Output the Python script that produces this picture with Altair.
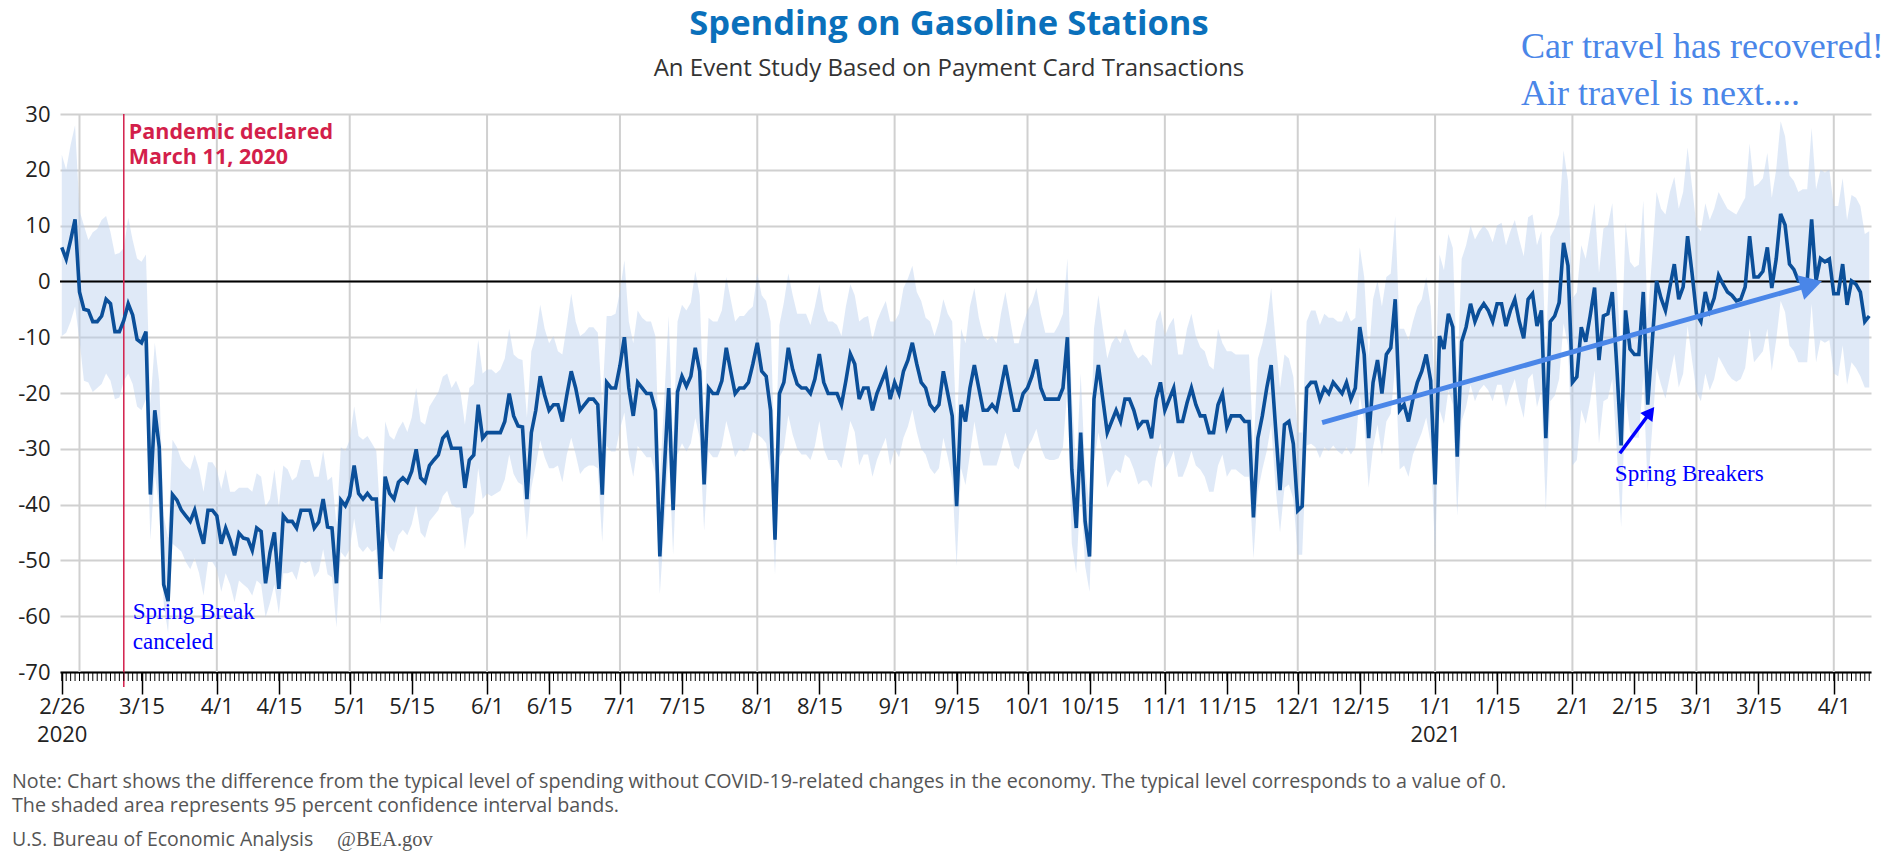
import altair as alt
import pandas as pd

# ---------------- daily values (difference from typical level) ----------------
line_feb20 = [6.1, 4.0, 7.4, 11.1]
line_mar20 = [-1.9, -5.0, -5.2, -7.2, -7.2, -6.2, -3.2, -4.0, -9.0, -9.0, -7.0, -4.0, -6.0, -10.4, -11.0, -9.0,
              -38.2, -23.1, -29.7, -54.3, -57.3, -38.2, -39.2, -41.0, -42.0, -43.0, -41.0, -44.3, -47.0, -41.0, -41.0]
line_apr20 = [-42.0, -47.0, -44.2, -46.3, -49.1, -45.1, -46.0, -46.2, -48.2, -44.2, -44.8, -54.1, -48.6, -45.0, -55.1,
              -42.0, -43.0, -43.0, -44.2, -41.0, -41.0, -41.0, -44.2, -43.1, -39.0, -44.0, -44.2, -54.1, -39.2, -40.2]
line_may20 = [-38.4, -33.0, -38.0, -39.0, -38.0, -39.0, -39.0, -53.3, -35.0, -38.0, -39.0, -36.0, -35.2, -36.0, -34.0,
              -30.1, -35.2, -36.0, -33.0, -32.0, -31.1, -28.1, -27.2, -29.9, -29.9, -29.9, -37.0, -32.0, -31.1, -22.1, -28.1]
line_jun20 = [-27.1, -27.1, -27.1, -27.1, -25.1, -20.1, -24.1, -25.9, -26.1, -39.0, -27.1, -23.1, -17.0, -20.4, -23.1,
              -22.1, -22.1, -25.1, -20.4, -16.1, -19.1, -23.1, -22.1, -21.1, -21.1, -22.1, -38.2, -18.1, -19.1, -19.1]
line_jul20 = [-15.1, -10.0, -19.1, -24.1, -18.1, -19.1, -20.1, -20.1, -23.1, -49.3, -34.0, -19.1, -41.0, -19.8, -17.0,
              -18.8, -17.0, -11.9, -16.1, -36.4, -19.1, -20.1, -20.1, -17.8, -11.9, -16.1, -20.1, -19.1, -19.1, -18.1, -14.8]
line_aug20 = [-11.0, -16.1, -17.0, -23.1, -46.3, -20.1, -18.1, -11.9, -15.8, -18.4, -19.1, -19.1, -20.1, -17.5, -13.0,
              -18.1, -20.1, -20.1, -20.1, -22.1, -17.8, -13.0, -14.8, -21.1, -19.1, -19.1, -23.1, -20.1, -18.1, -16.1, -21.1]
line_sep20 = [-18.1, -20.1, -16.1, -14.1, -11.0, -14.8, -18.1, -19.1, -22.1, -23.1, -22.1, -16.1, -20.1, -24.1, -40.3,
              -22.1, -25.1, -19.1, -15.0, -19.1, -23.1, -23.1, -22.1, -23.1, -19.1, -15.0, -19.1, -23.1, -23.1, -20.1]
line_oct20 = [-19.1, -17.0, -14.0, -19.1, -21.1, -21.1, -21.1, -21.1, -19.1, -10.0, -33.7, -44.2, -27.1, -43.0, -49.3,
              -21.1, -15.0, -21.1, -27.1, -25.1, -23.1, -25.1, -21.1, -21.1, -23.1, -26.1, -25.1, -25.1, -28.1, -21.1, -18.1]
line_nov20 = [-23.1, -21.1, -19.1, -25.1, -25.1, -21.8, -19.1, -22.1, -24.1, -24.1, -27.1, -27.1, -22.1, -20.1, -26.1,
              -24.1, -24.1, -24.1, -25.1, -25.1, -42.3, -28.1, -24.1, -19.1, -15.0, -26.2, -37.4, -25.7, -25.1, -29.1]
line_dec20 = [-41.1, -40.3, -19.1, -18.1, -18.1, -21.1, -19.1, -20.1, -18.1, -19.1, -20.1, -18.1, -21.1, -19.1, -8.2,
              -13.1, -28.1, -18.1, -14.1, -20.1, -13.1, -11.9, -3.2, -23.1, -22.1, -25.1, -21.1, -18.1, -16.1, -13.1, -17.8]
line_jan21 = [-36.4, -9.8, -12.1, -5.8, -8.2, -31.4, -10.8, -8.2, -4.0, -7.2, -5.2, -4.0, -5.2, -7.2, -4.0,
              -4.0, -8.0, -5.2, -3.2, -7.2, -10.2, -3.2, -2.2, -8.0, -5.2, -28.1, -7.2, -6.2, -3.8, 6.9, 2.8]
line_feb21 = [-18.1, -17.1, -8.2, -10.8, -6.2, -1.1, -14.1, -6.2, -5.8, -1.9, -15.0, -29.4, -5.2, -12.1,
              -13.1, -13.1, -1.9, -22.1, -11.0, 0.1, -3.0, -5.2, -1.0, 3.1, -3.2, -1.0, 8.1, 1.5]
line_mar21 = [-5.8, -7.2, -1.9, -5.2, -3.0, 1.1, -0.5, -1.9, -2.5, -3.5, -3.2, -1.0, 8.1, 0.8, 0.8,
              1.8, 6.1, -1.2, 4.0, 12.1, 10.1, 3.1, 2.1, 0.1, 0.1, 0.1, 11.1, 0.1, 4.1, 3.5, 4.0]
line_apr21 = [-2.2, -2.2, 3.1, -4.2, 0.1, -0.5, -1.9, -7.2, -6.2]

# ---------------- upper bound of the 95% confidence band ----------------
up_feb20 = [22.7, 20.0, 24.5, 28.0]
up_mar20 = [12.7, 10.0, 7.4, 8.8, 9.4, 11.0, 11.7, 8.8, 4.8, 5.1, 6.0, 11.4, 7.4, 4.1, 3.5, 4.8,
            -22.0, -11.0, -18.0, -42.0, -46.0, -28.4, -29.7, -32.0, -33.0, -33.7, -31.0, -33.7, -37.7, -32.4, -32.4]
up_apr20 = [-33.7, -37.2, -33.7, -37.7, -37.7, -37.0, -37.0, -37.0, -37.7, -34.4, -35.0, -40.4, -39.0, -33.7, -40.4,
            -33.0, -33.7, -35.7, -35.0, -32.0, -32.0, -32.0, -35.0, -35.0, -30.4, -35.7, -35.0, -43.6, -29.7, -30.4]
up_may20 = [-28.4, -22.4, -27.7, -28.4, -27.7, -29.0, -30.4, -43.6, -25.1, -27.7, -28.4, -26.4, -25.1, -27.0, -24.4,
            -19.1, -25.1, -25.7, -22.4, -21.1, -19.8, -17.1, -16.5, -19.1, -17.8, -19.8, -25.7, -19.1, -18.4, -10.5, -16.5]
up_jun20 = [-15.8, -15.8, -16.5, -15.8, -13.8, -8.5, -13.1, -13.8, -14.1, -24.4, -12.5, -9.8, -4.2, -8.5, -11.1,
            -9.8, -12.5, -13.1, -7.8, -2.2, -7.2, -9.8, -9.2, -8.2, -8.2, -9.2, -21.8, -6.2, -6.2, -5.8]
up_jul20 = [-1.8, 3.8, -7.2, -11.1, -5.2, -6.5, -7.2, -7.2, -9.8, -36.0, -21.0, -6.2, -29.0, -7.2, -4.2,
            -5.2, -3.8, 1.8, -2.5, -25.0, -6.5, -7.2, -7.2, -5.2, 0.8, -3.2, -7.2, -6.2, -6.2, -5.2, -4.5]
up_aug20 = [1.4, -2.5, -3.5, -7.2, -33.7, -7.8, -3.8, 1.4, -2.5, -5.8, -5.8, -5.8, -7.8, -4.5, -0.5,
            -5.2, -7.2, -7.2, -7.8, -9.8, -4.5, -0.5, -2.5, -7.2, -6.5, -6.2, -10.5, -7.2, -5.2, -3.5, -7.2]
up_sep20 = [-7.2, -5.8, -1.2, 0.5, 2.8, -1.9, -3.5, -6.5, -7.2, -9.8, -7.2, -3.2, -5.8, -7.2, -27.1,
            -8.5, -11.1, -4.5, -1.2, -6.5, -9.8, -10.5, -9.8, -11.1, -5.8, -1.9, -6.5, -11.1, -11.1, -7.8]
up_oct20 = [-5.2, -3.8, -1.2, -5.8, -9.2, -9.2, -9.2, -7.8, -5.8, 4.1, -20.4, -33.7, -16.5, -33.7, -40.3,
            -8.5, -2.5, -8.5, -13.8, -11.1, -9.8, -11.1, -8.5, -10.5, -12.5, -13.8, -13.1, -13.8, -15.1, -7.2, -5.2]
up_nov20 = [-9.8, -7.8, -6.5, -13.1, -13.1, -8.5, -5.8, -9.8, -11.8, -12.5, -15.1, -15.8, -8.5, -11.1, -12.5,
            -12.5, -13.1, -13.1, -13.1, -13.1, -30.4, -13.8, -11.1, -7.2, -1.2, -10.5, -19.1, -13.1, -13.8, -17.1]
up_dec20 = [-27.1, -27.1, -7.2, -5.2, -5.2, -7.8, -5.8, -6.5, -6.5, -7.2, -7.2, -5.2, -7.2, -6.5, 6.1,
            0.8, -13.8, -3.2, 0.1, -4.5, 0.8, 1.4, 11.7, -8.5, -8.5, -10.5, -7.2, -4.5, -3.2, 0.8, -4.5]
up_jan21 = [-20.4, 4.8, 2.0, 8.5, 6.0, -17.0, 4.0, 6.5, 10.0, 7.5, 9.0, 10.0, 9.0, 7.0, 10.0,
            10.5, 6.5, 9.0, 11.0, 7.5, 4.5, 11.5, 12.0, 6.5, 9.0, -13.0, 8.0, 9.5, 12.0, 23.5, 18.0]
up_feb21 = [-3.0, -2.0, 6.5, 4.0, 9.0, 14.0, 1.5, 9.5, 10.0, 14.0, 0.0, -14.0, 10.5, 3.5,
            2.5, 3.0, 14.5, -6.5, 4.5, 16.0, 13.0, 12.0, 16.0, 18.7, 13.0, 16.0, 24.0, 17.0]
up_mar21 = [10.0, 9.0, 14.0, 11.0, 13.0, 16.0, 14.5, 13.0, 12.5, 12.0, 13.5, 15.0, 24.7, 17.0, 17.5,
            18.5, 23.0, 15.0, 20.0, 28.7, 26.0, 19.0, 18.0, 16.0, 16.5, 16.5, 27.5, 16.5, 20.0, 19.5, 20.0]
up_apr21 = [13.5, 13.5, 18.5, 11.0, 15.5, 15.0, 13.5, 8.5, 9.0]

# ---------------- lower bound of the 95% confidence band ----------------
lo_feb20 = [-9.8, -9.2, -7.2, -4.5]
lo_mar20 = [-10.5, -17.8, -18.1, -19.8, -19.1, -18.4, -16.5, -17.8, -21.1, -20.8, -17.8, -16.5, -18.4, -22.4, -23.1, -21.1,
            -46.3, -34.4, -41.0, -57.6, -63.0, -47.0, -47.7, -48.4, -50.3, -51.6, -49.6, -52.3, -56.3, -50.3, -50.3]
lo_apr20 = [-51.6, -55.6, -52.3, -54.3, -57.5, -53.6, -54.3, -55.0, -56.3, -53.6, -54.3, -60.2, -57.6, -54.3, -59.5,
            -52.3, -52.3, -52.0, -53.5, -50.0, -50.5, -50.0, -53.0, -52.0, -48.0, -52.5, -53.0, -62.0, -48.5, -49.5]
lo_may20 = [-48.0, -42.5, -47.5, -48.5, -47.5, -48.5, -48.0, -61.5, -44.5, -47.5, -48.5, -45.5, -44.5, -45.5, -43.5,
            -40.0, -45.0, -46.0, -43.0, -42.0, -41.0, -38.5, -37.5, -40.0, -40.5, -40.5, -48.0, -42.5, -41.5, -33.5, -39.0]
lo_jun20 = [-38.0, -38.5, -38.0, -37.5, -35.5, -31.0, -34.5, -36.0, -36.5, -46.3, -37.0, -33.0, -28.5, -31.5, -33.5,
            -33.5, -33.0, -36.0, -31.0, -28.0, -31.0, -34.5, -33.5, -33.0, -33.0, -33.5, -46.7, -29.5, -30.5, -30.5]
lo_jul20 = [-26.5, -23.5, -31.0, -35.0, -29.5, -30.5, -31.5, -31.5, -34.5, -56.0, -44.0, -30.5, -49.0, -31.0, -29.0,
            -30.5, -29.0, -24.5, -28.0, -44.7, -30.5, -31.5, -31.5, -29.5, -25.0, -28.0, -31.5, -30.0, -30.5, -30.0, -27.0]
lo_aug20 = [-27.5, -28.0, -29.0, -34.5, -52.5, -31.5, -30.0, -24.0, -27.5, -30.0, -31.0, -31.0, -32.0, -29.5, -25.0,
            -30.0, -32.0, -32.0, -32.0, -33.5, -29.5, -25.0, -27.0, -33.0, -31.0, -31.0, -35.0, -32.0, -30.0, -28.0, -33.0]
lo_sep20 = [-30.0, -31.5, -28.0, -26.0, -23.0, -27.0, -30.0, -31.0, -33.5, -34.5, -33.5, -28.0, -31.5, -35.5, -51.0,
            -33.5, -36.5, -31.0, -25.1, -29.7, -33.0, -33.0, -33.0, -33.0, -30.4, -27.1, -29.7, -33.0, -33.7, -31.0]
lo_oct20 = [-29.7, -28.4, -26.4, -29.7, -31.7, -32.0, -32.0, -31.7, -29.7, -19.1, -47.0, -52.3, -37.0, -51.0, -55.6,
            -32.4, -27.1, -31.0, -37.0, -35.0, -33.7, -34.4, -31.0, -31.7, -33.7, -36.4, -35.7, -35.7, -37.0, -31.7, -29.0]
lo_nov20 = [-33.7, -32.4, -30.4, -35.0, -35.0, -33.0, -30.4, -33.0, -33.7, -35.0, -37.7, -37.7, -33.0, -31.0, -35.0,
            -33.7, -33.7, -34.4, -35.0, -35.0, -49.6, -37.7, -33.7, -30.4, -25.7, -37.0, -45.0, -37.0, -36.4, -39.0]
lo_dec20 = [-49.0, -49.0, -29.4, -29.1, -29.7, -31.7, -29.7, -30.4, -29.4, -30.4, -31.0, -29.7, -31.0, -29.7, -20.4,
            -25.1, -37.0, -29.7, -25.7, -31.0, -25.1, -23.7, -15.1, -33.7, -33.0, -35.0, -31.0, -29.1, -27.1, -24.4, -29.1]
lo_jan21 = [-49.0, -23.0, -25.5, -19.5, -22.0, -42.0, -25.0, -22.5, -18.5, -21.5, -19.5, -18.5, -19.5, -21.5, -18.5,
            -18.5, -22.5, -19.5, -17.5, -21.5, -24.5, -17.5, -16.5, -22.5, -19.5, -41.0, -21.5, -20.5, -17.5, -7.5, -11.5]
lo_feb21 = [-33.0, -32.0, -23.0, -25.5, -21.5, -16.0, -29.0, -21.5, -21.0, -17.5, -30.0, -44.0, -20.5, -27.0,
            -28.0, -28.0, -17.0, -37.5, -26.5, -15.5, -18.5, -21.0, -17.0, -13.0, -19.0, -16.5, -8.0, -14.0]
lo_mar21 = [-19.8, -21.5, -16.5, -19.5, -17.5, -13.5, -15.0, -16.5, -17.5, -18.0, -17.5, -15.5, -8.5, -14.5, -13.5,
            -12.5, -8.5, -16.0, -10.5, -3.5, -5.5, -11.5, -12.5, -14.5, -14.5, -14.5, -4.0, -14.5, -10.5, -11.0, -10.5]
lo_apr21 = [-16.5, -17.0, -11.5, -18.5, -14.5, -15.5, -17.0, -19.0, -19.0]

FIRST_DAY = "2020-02-26"
LAST_DAY = "2021-04-09"
PANDEMIC_DAY = "2020-03-11"

# x-axis tick labels (dates)
TICK_DATES = ["2020-02-26", "2020-03-15", "2020-04-01", "2020-04-15", "2020-05-01", "2020-05-15",
              "2020-06-01", "2020-06-15", "2020-07-01", "2020-07-15", "2020-08-01", "2020-08-15",
              "2020-09-01", "2020-09-15", "2020-10-01", "2020-10-15", "2020-11-01", "2020-11-15",
              "2020-12-01", "2020-12-15", "2021-01-01", "2021-01-15", "2021-02-01", "2021-02-15",
              "2021-03-01", "2021-03-15", "2021-04-01"]
Y_TICKS = [-70, -60, -50, -40, -30, -20, -10, 0, 10, 20, 30]

# annotation anchors (date, value)
BIG_ARROW = {"from": ("2020-12-06T12:00", -25.3), "head": ("2021-03-26T22:00", -0.54)}
SMALL_ARROW = {"from": ("2021-02-11T17:00", -30.8), "head": ("2021-02-18T14:00", -23.46)}
PANDEMIC_NOTE = ("Pandemic declared\nMarch 11, 2020", 28.57)
SPRING_CANCEL_LINES = [("Spring Break", -60.5), ("canceled", -65.8)]
SPRING_BREAKERS = ("2021-02-10T14:00", -35.8, "Spring Breakers")
TITLE = "Spending on Gasoline Stations"
SUBTITLE = "An Event Study Based on Payment Card Transactions"
TOP_NOTE = ["Car travel has recovered!", "Air travel is next...."]
FOOT_NOTES = ["Note: Chart shows the difference from the typical level of spending without COVID-19-related "
              "changes in the economy. The typical level corresponds to a value of 0.",
              "The shaded area represents 95 percent confidence interval bands."]
SOURCE = "U.S. Bureau of Economic Analysis"
HANDLE = "@BEA.gov"

# ---------------- build table ----------------
line_vals = (line_feb20 + line_mar20 + line_apr20 + line_may20 + line_jun20 + line_jul20 + line_aug20 +
             line_sep20 + line_oct20 + line_nov20 + line_dec20 + line_jan21 + line_feb21 + line_mar21 + line_apr21)
up_vals = (up_feb20 + up_mar20 + up_apr20 + up_may20 + up_jun20 + up_jul20 + up_aug20 +
           up_sep20 + up_oct20 + up_nov20 + up_dec20 + up_jan21 + up_feb21 + up_mar21 + up_apr21)
lo_vals = (lo_feb20 + lo_mar20 + lo_apr20 + lo_may20 + lo_jun20 + lo_jul20 + lo_aug20 +
           lo_sep20 + lo_oct20 + lo_nov20 + lo_dec20 + lo_jan21 + lo_feb21 + lo_mar21 + lo_apr21)
n = min(len(line_vals), len(up_vals), len(lo_vals))
dates = pd.date_range(FIRST_DAY, periods=n, freq="D")
DAY_MS = 86400000


def ts(s):
    return int(pd.Timestamp(s).value // 10**6)


df = pd.DataFrame({
    "date": [ts(d) for d in dates],
    "v": line_vals[:n],
    "upper": up_vals[:n],
    "lower": lo_vals[:n],
    "dom": [d.day for d in dates],
})
month_starts = df[df["dom"] == 1][["date"]]

W, H = 1811, 558
RED = "#d31f4b"
LINE_BLUE = "#0b4f99"
ARROW_BLUE = "#4a86e8"
PURE_BLUE = "#0000ff"
GRID = "#d0d0d0"
SANS = "Open Sans"
SERIF = "Liberation Serif"

xscale = alt.Scale(type="utc", domain=[ts(FIRST_DAY) - 0.4 * DAY_MS, ts(LAST_DAY) + 0.4 * DAY_MS])
yscale = alt.Scale(domain=[-70, 30], nice=False, zero=False)

label_expr = ("(utcFormat(datum.value, '%m%d') == '0226' || utcFormat(datum.value, '%m%d') == '0101') ? "
              "[utcFormat(datum.value, '%-m/%-d'), utcFormat(datum.value, '%Y')] : utcFormat(datum.value, '%-m/%-d')")
xaxis = alt.Axis(values=[ts(d) for d in TICK_DATES], labelExpr=label_expr, title=None, grid=False,
                 tickSize=22, tickColor="black", tickWidth=1.5, domainColor="black", domainWidth=2,
                 labelFont=SANS, labelFontSize=22, labelColor="#222222", labelPadding=2,
                 labelOverlap=False, labelFlush=False, labelBound=False, labelLineHeight=28)
yaxis = alt.Axis(values=Y_TICKS, title=None, grid=True, gridColor=GRID, gridWidth=2, domain=False,
                 ticks=False, labelPadding=10, labelFont=SANS, labelFontSize=22, labelColor="#222222",
                 labelExpr="'' + datum.value")


def X(field="date"):
    return alt.X(f"{field}:T", scale=xscale, axis=xaxis)


def Y(field="v"):
    return alt.Y(f"{field}:Q", scale=yscale, axis=yaxis)


base = alt.Chart(df)

vgrid = alt.Chart(month_starts).mark_rule(color=GRID, strokeWidth=2).encode(x=X())

band = base.mark_area(color="#b9cfee", opacity=0.45).encode(x=X(), y=Y("lower"), y2=alt.Y2("upper"))

zero = alt.Chart(pd.DataFrame({"v": [0]})).mark_rule(color="black", strokeWidth=2).encode(y=Y())

red = alt.Chart(pd.DataFrame({"date": [ts(PANDEMIC_DAY)]})).mark_rule(color=RED, strokeWidth=1.5).encode(
    x=X(), y=alt.value(0), y2=alt.value(H + 15))

line = base.mark_line(color=LINE_BLUE, strokeWidth=3.6).encode(x=X(), y=Y())

minor = base.mark_rule(color="black", strokeWidth=1).encode(x=X(), y=alt.value(H), y2=alt.value(H + 9))

big_df = pd.DataFrame({"date": [ts(BIG_ARROW["from"][0])], "v": [BIG_ARROW["from"][1]],
                       "date2": [ts(BIG_ARROW["head"][0])], "v2": [BIG_ARROW["head"][1]]})
big_line = alt.Chart(big_df).mark_rule(color=ARROW_BLUE, strokeWidth=5).encode(
    x=X(), y=Y(), x2=alt.X2("date2"), y2=alt.Y2("v2"))
big_head = alt.Chart(pd.DataFrame({"date": [ts(BIG_ARROW["head"][0])], "v": [BIG_ARROW["head"][1]]})).mark_point(
    shape="triangle-right", angle=344, size=650, filled=True, opacity=1, color=ARROW_BLUE).encode(x=X(), y=Y())

small_df = pd.DataFrame({"date": [ts(SMALL_ARROW["from"][0])], "v": [SMALL_ARROW["from"][1]],
                         "date2": [ts(SMALL_ARROW["head"][0])], "v2": [SMALL_ARROW["head"][1]]})
small_line = alt.Chart(small_df).mark_rule(color=PURE_BLUE, strokeWidth=3.5).encode(
    x=X(), y=Y(), x2=alt.X2("date2"), y2=alt.Y2("v2"))
small_head = alt.Chart(pd.DataFrame({"date": [ts(SMALL_ARROW["head"][0])], "v": [SMALL_ARROW["head"][1]]})).mark_point(
    shape="triangle-right", angle=307, size=230, filled=True, opacity=1, color=PURE_BLUE).encode(x=X(), y=Y())

pand_df = pd.DataFrame({"date": [ts(PANDEMIC_DAY)], "v": [PANDEMIC_NOTE[1]], "t": [PANDEMIC_NOTE[0]]})
pand_txt = alt.Chart(pand_df).mark_text(align="left", baseline="top", dx=5, font=SANS, fontSize=21.5,
                                        fontWeight="bold", color=RED, lineBreak="\n", lineHeight=25.5).encode(
    x=X(), y=Y(), text="t:N")

sbc_df = pd.DataFrame({"date": [ts(PANDEMIC_DAY)] * 2, "v": [p[1] for p in SPRING_CANCEL_LINES],
                       "t": [p[0] for p in SPRING_CANCEL_LINES]})
sbc_txt = alt.Chart(sbc_df).mark_text(align="left", baseline="alphabetic", dx=9, font=SERIF, fontSize=23,
                                      color=PURE_BLUE).encode(x=X(), y=Y(), text="t:N")

sb_df = pd.DataFrame({"date": [ts(SPRING_BREAKERS[0])], "v": [SPRING_BREAKERS[1]], "t": [SPRING_BREAKERS[2]]})
sb_txt = alt.Chart(sb_df).mark_text(align="left", baseline="alphabetic", font=SERIF, fontSize=23,
                                    color=PURE_BLUE).encode(x=X(), y=Y(), text="t:N")


def free_text(txt, px, py, align="left", **kw):
    return alt.Chart(pd.DataFrame({"t": [txt]})).mark_text(align=align, baseline="alphabetic", **kw).encode(
        x=alt.value(px), y=alt.value(py), text="t:N")


title = free_text(TITLE, 889, -79, align="center", font=SANS, fontSize=34.5, fontWeight="bold", color="#0a70bb")
subtitle = free_text(SUBTITLE, 889, -38, align="center", font=SANS, fontSize=24, color="#333333")
top1 = free_text(TOP_NOTE[0], 1461, -56, font=SERIF, fontSize=36, color=ARROW_BLUE)
top2 = free_text(TOP_NOTE[1], 1461, -9, font=SERIF, fontSize=36, color=ARROW_BLUE)
note1 = free_text(FOOT_NOTES[0], -48, 674, font=SANS, fontSize=19.7, color="#555555")
note2 = free_text(FOOT_NOTES[1], -48, 698, font=SANS, fontSize=19.7, color="#555555")
src = free_text(SOURCE, -48, 732, font=SANS, fontSize=19.5, color="#555555")
handle = free_text(HANDLE, 277, 732, font=SERIF, fontSize=20.5, color="#555555")

chart = alt.layer(
    vgrid, band, zero, red, line, minor, big_line, big_head, small_line, small_head,
    pand_txt, sbc_txt, sb_txt, title, subtitle, top1, top2, note1, note2, src, handle
).properties(
    width=W, height=H,
    padding={"left": 52, "top": 106, "right": 17, "bottom": 180},
    autosize=alt.AutoSizeParams(type="none"),
).configure_view(stroke=None)

chart.save("out.html", embed_options={"renderer": "svg", "actions": False})
